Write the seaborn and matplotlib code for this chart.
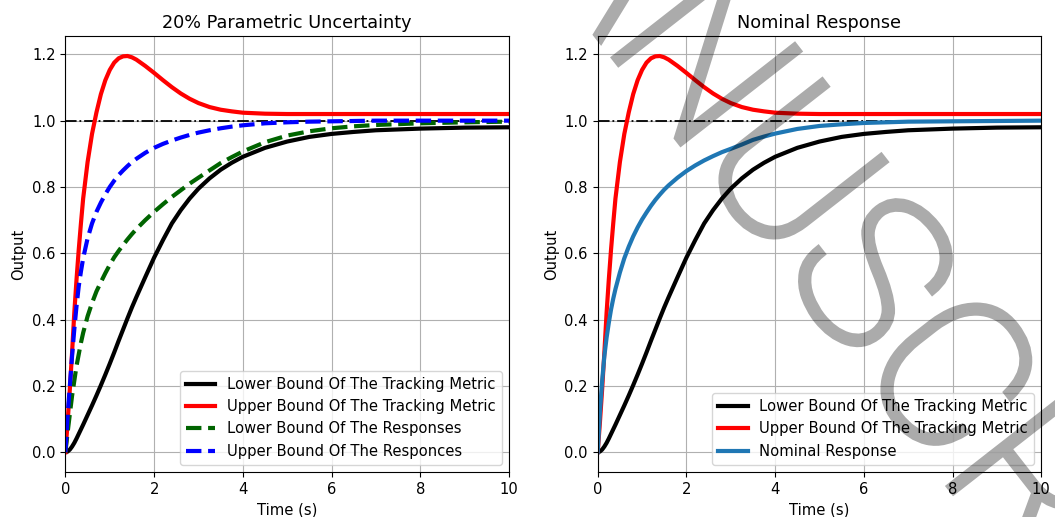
import numpy as np
import pandas as pd
import seaborn as sb
import matplotlib
matplotlib.use("Agg")
import matplotlib.pyplot as plt
import matplotlib.patheffects as pe

# DATA #
time = [0, 0.05, 0.1, 0.15, 0.2, 0.25, 0.3, 0.35, 0.4, 0.5, 0.6, 0.7, 0.8, 0.9, 1.0, 1.1, 1.2, 1.3, 1.4, 1.5,
        1.6, 1.8, 2.0, 2.2, 2.4, 2.6, 2.8, 3.0, 3.25, 3.5, 3.75, 4.0, 4.5, 5.0, 5.5, 6.0, 6.5, 7.0, 8.0, 9.0, 10.0]

upper_metric = [0, 0.09, 0.19, 0.30, 0.42, 0.52, 0.61, 0.69, 0.765, 0.875, 0.96, 1.025, 1.08, 1.122, 1.153, 1.175,
                1.188, 1.194, 1.195, 1.191, 1.184, 1.165, 1.144, 1.122, 1.101, 1.082, 1.066, 1.053, 1.041, 1.033,
                1.028, 1.024, 1.021, 1.02, 1.02, 1.02, 1.02, 1.02, 1.02, 1.02, 1.02]

lower_metric = [0, 0.002, 0.008, 0.017, 0.028, 0.041, 0.055, 0.069, 0.083, 0.112, 0.141, 0.171, 0.202, 0.234, 0.267,
                0.301, 0.336, 0.37, 0.404, 0.437, 0.468, 0.528, 0.587, 0.64, 0.69, 0.73, 0.765, 0.795, 0.826, 0.852,
                0.873, 0.891, 0.918, 0.937, 0.951, 0.96, 0.966, 0.971, 0.976, 0.979, 0.98]

upper_resp = [0, 0.11, 0.2, 0.29, 0.37, 0.44, 0.5, 0.545, 0.585, 0.645, 0.69, 0.725, 0.753, 0.778, 0.80, 0.819,
              0.836, 0.85, 0.863, 0.875, 0.885, 0.903, 0.918, 0.93, 0.94, 0.949, 0.957, 0.964, 0.971, 0.977,
              0.982, 0.986, 0.992, 0.995, 0.997, 0.998, 0.999, 1.0, 1.0, 1.0, 1.0]

lower_resp = [0, 0.06, 0.115, 0.17, 0.215, 0.26, 0.295, 0.33, 0.36, 0.41, 0.45, 0.485, 0.513, 0.54, 0.565, 0.588,
              0.607, 0.625, 0.642, 0.658, 0.673, 0.70, 0.725, 0.748, 0.77, 0.79, 0.81, 0.828, 0.85, 0.872,
              0.89, 0.907, 0.935, 0.955, 0.968, 0.977, 0.983, 0.987, 0.992, 0.995, 0.997]

nominal = [0, 0.12, 0.215, 0.29, 0.345, 0.39, 0.43, 0.463, 0.492, 0.542, 0.585, 0.62, 0.651, 0.678, 0.702, 0.723,
           0.743, 0.761, 0.777, 0.792, 0.805, 0.828, 0.848, 0.865, 0.88, 0.893, 0.905, 0.915, 0.928, 0.942,
           0.952, 0.961, 0.975, 0.984, 0.989, 0.993, 0.995, 0.997, 0.998, 0.999, 1.0]

reference = [1.0] * len(time)


def fade(img, dpi):
    # make the opaque watermark see-through in one go
    out = img.copy()
    out[..., 3] *= 0.33
    return out, 0, 0


# PLOTTING #
fig, axes = plt.subplots(1, 2, figsize=(10.55, 5.17), dpi=100)
plt.subplots_adjust(left=0.062, right=0.987, top=0.930, bottom=0.087, wspace=0.2)

ax = axes[0]
sb.lineplot(x=time, y=reference, color="black", linestyle="-.", lw=1.3, ax=ax)
sb.lineplot(x=time, y=lower_metric, color="black", lw=3, label="Lower Bound Of The Tracking Metric", ax=ax)
sb.lineplot(x=time, y=upper_metric, color="red", lw=3, label="Upper Bound Of The Tracking Metric", ax=ax)
sb.lineplot(x=time, y=lower_resp, color="darkgreen", lw=3, linestyle="--", label="Lower Bound Of The Responses", ax=ax)
sb.lineplot(x=time, y=upper_resp, color="blue", lw=3, linestyle="--", label="Upper Bound Of The Responces", ax=ax)
ax.set_title("20% Parametric Uncertainty", fontsize=12.7)

ax = axes[1]
sb.lineplot(x=time, y=reference, color="black", linestyle="-.", lw=1.3, ax=ax)
sb.lineplot(x=time, y=lower_metric, color="black", lw=3, label="Lower Bound Of The Tracking Metric", ax=ax)
sb.lineplot(x=time, y=upper_metric, color="red", lw=3, label="Upper Bound Of The Tracking Metric", ax=ax)
sb.lineplot(x=time, y=nominal, color="#1f77b4", lw=3, label="Nominal Response", ax=ax)
ax.set_title("Nominal Response", fontsize=12.7)

for ax in axes:
    ax.set_xlim(0, 10)
    ax.set_xlabel("Time (s)", fontsize=10.6)
    ax.set_ylabel("Output", fontsize=10.6)
    ax.tick_params(labelsize=10.6)
    ax.grid(True, color="#b0b0b0", lw=0.8)
    ax.set_axisbelow(True)
    ax.legend(loc="lower right", fontsize=10.6)

# manuscript watermark (thin font thickened by a stroke, faded afterwards)
wm = fig.text(0.813, 0.467, "MANUSCRIPT", family=["Roboto", "DejaVu Sans"], fontweight="light",
              fontsize=150, color="black",
              rotation=-52, ha="center", va="center", rotation_mode="anchor", zorder=10,
              path_effects=[pe.Stroke(linewidth=5.5, foreground="black", joinstyle="miter"), pe.Normal()])
wm.set_agg_filter(fade)

plt.savefig("out.png", dpi=100)
